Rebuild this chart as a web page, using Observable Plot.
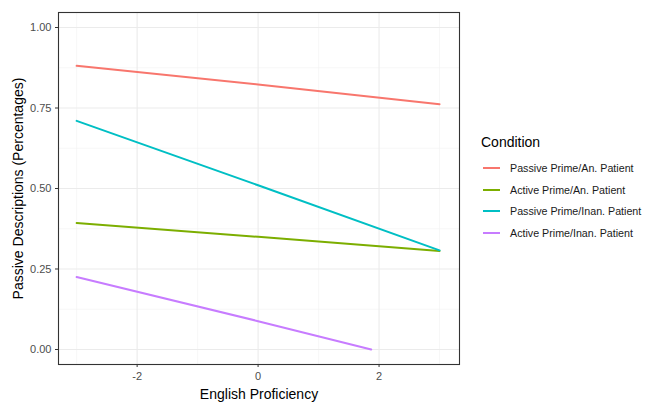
<!DOCTYPE html>
<html>
<head>
<meta charset="utf-8">
<script src="https://cdn.jsdelivr.net/npm/d3@7"></script>
<script src="https://cdn.jsdelivr.net/npm/@observablehq/plot@0.6"></script>
<style>
  html, body { margin: 0; padding: 0; background: #fff; }
  #wrap { position: relative; width: 645px; height: 403px; font-family: "Liberation Sans", Arial, sans-serif; }
  #legend { position: absolute; left: 481px; top: 134px; white-space: nowrap; }
  #legend .title { font-size: 14px; color: #000; margin-bottom: 7px; }
  #legend .item { display: flex; align-items: center; height: 21.7px; font-size: 10.7px; color: #1a1a1a; white-space: nowrap; }
  #legend svg { margin-right: 10px; margin-left: 2px; flex: none; }
</style>
</head>
<body>
<div id="wrap">
  <div id="chart"></div>
  <div id="legend"></div>
</div>
<script>
// Fitted passive-description rates by English proficiency, one line per condition
const conditions = [
  "Passive Prime/An. Patient",
  "Active Prime/An. Patient",
  "Passive Prime/Inan. Patient",
  "Active Prime/Inan. Patient"
];
const colors = ["#F8766D", "#7CAE00", "#00BFC4", "#C77CFF"];

// proficiency values (x) and predicted proportions (y) along each line
const profStart = [-3, -3, -3, -3];
const profMid = [0, 0, 0, 0];
const profEnd = [3, 3, 3, 1.87];
const passiveStart = [0.881, 0.393, 0.710, 0.225];
const passiveMid = [0.823, 0.350, 0.510, 0.088];
const passiveEnd = [0.762, 0.306, 0.308, 0.0];

const xTicks = [-2, 0, 2];
const xMinor = [-3, -1, 1, 3];
const yTicks = [0, 0.25, 0.5, 0.75, 1];
const yMinor = [0.125, 0.375, 0.625, 0.875];

const rows = [];
conditions.forEach((c, i) => {
  rows.push({condition: c, x: profStart[i], y: passiveStart[i]});
  rows.push({condition: c, x: profMid[i], y: passiveMid[i]});
  rows.push({condition: c, x: profEnd[i], y: passiveEnd[i]});
});

const plot = Plot.plot({
  width: 645,
  height: 403,
  marginLeft: 58,
  marginRight: 186,
  marginTop: 12,
  marginBottom: 39,
  style: {fontFamily: "Liberation Sans, Arial, sans-serif", background: "#fff"},
  x: {domain: [-3.3, 3.33]},
  y: {domain: [-0.0466, 1.0466]},
  color: {domain: conditions, range: colors},
  marks: [
    Plot.ruleX(xMinor, {stroke: "#F2F2F2", strokeWidth: 0.6}),
    Plot.ruleY(yMinor, {stroke: "#F2F2F2", strokeWidth: 0.6}),
    Plot.ruleX(xTicks, {stroke: "#EBEBEB", strokeWidth: 1.1}),
    Plot.ruleY(yTicks, {stroke: "#EBEBEB", strokeWidth: 1.1}),
    Plot.line(rows, {x: "x", y: "y", z: "condition", stroke: "condition", strokeWidth: 2}),
    Plot.frame({stroke: "#333333", strokeWidth: 1.1}),
    Plot.axisX({
      ticks: xTicks, tickSize: 3, tickPadding: 5, fontSize: 11, color: "#4D4D4D",
      stroke: "#333333", label: null, tickFormat: d => d < 0 ? "-" + Math.abs(d) : String(d)
    }),
    Plot.axisY({
      ticks: yTicks, tickSize: 3, tickPadding: 4, fontSize: 11, color: "#4D4D4D",
      stroke: "#333333", label: null, tickFormat: d3.format(".2f")
    }),
    Plot.text(["English Proficiency"], {
      frameAnchor: "bottom", dy: 34, fontSize: 14, fill: "#000"
    }),
    Plot.text(["Passive Descriptions (Percentages)"], {
      frameAnchor: "left", textAnchor: "middle", dx: -40, rotate: -90, fontSize: 14, fill: "#000"
    })
  ]
});
document.getElementById("chart").appendChild(plot);

// Condition legend with line keys
const legend = document.getElementById("legend");
const title = document.createElement("div");
title.className = "title";
title.textContent = "Condition";
legend.appendChild(title);
conditions.forEach((c, i) => {
  const item = document.createElement("div");
  item.className = "item";
  item.innerHTML = `<svg width="17" height="4"><line x1="0" x2="17" y1="2" y2="2" stroke="${colors[i]}" stroke-width="2"/></svg><span>${c}</span>`;
  legend.appendChild(item);
});
</script>
</body>
</html>
